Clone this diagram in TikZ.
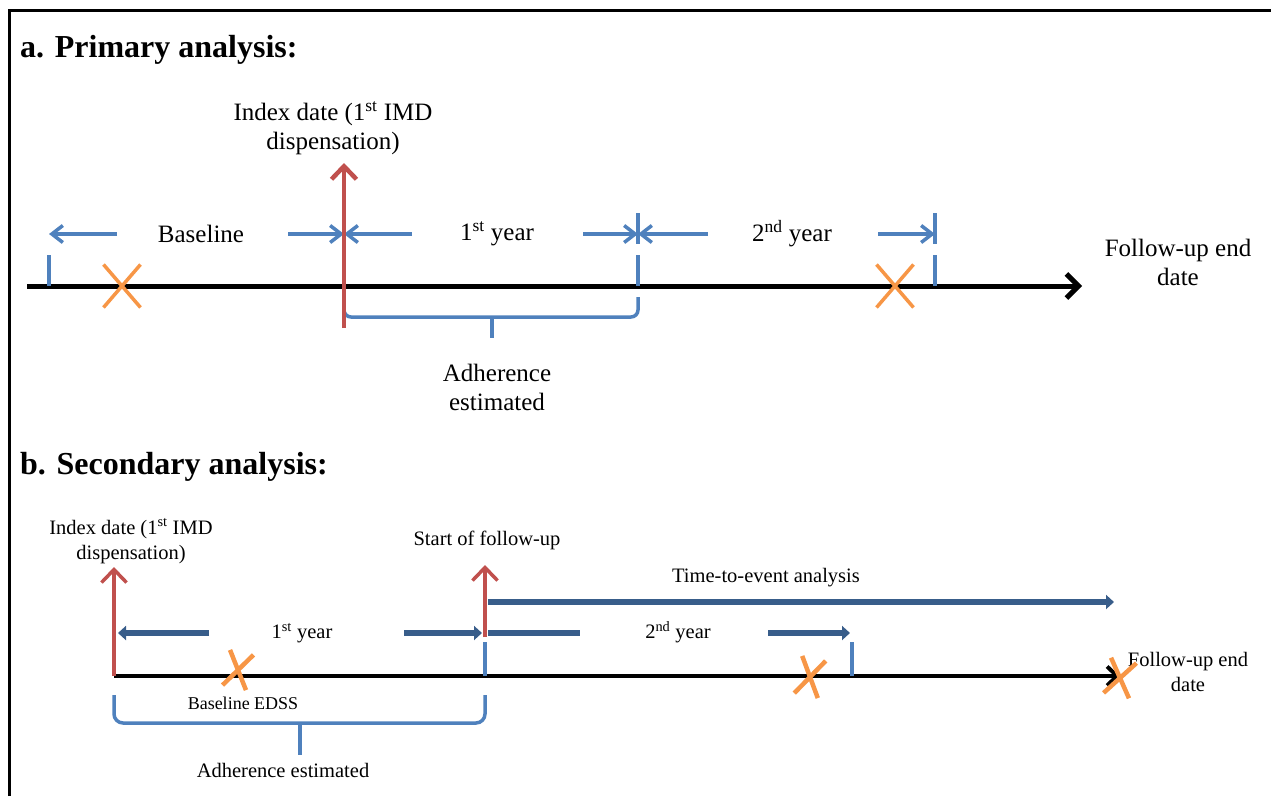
\documentclass[tikz,border=0pt]{standalone}
\usepackage{fontspec}
\setmainfont{Liberation Serif}
\usepackage{tikz}
\usetikzlibrary{arrows.meta}
\usetikzlibrary{shapes.misc}
\usetikzlibrary{calc}
\definecolor{tlblue}{HTML}{4F81BD}
\definecolor{tlred}{HTML}{C0504D}
\definecolor{tlorange}{HTML}{F79646}
\definecolor{tldark}{HTML}{385D8A}
\tikzset{head/.style={font=\fontsize{32}{36}\selectfont\bfseries, anchor=base west, inner sep=0pt}}
\tikzset{txta/.style={font=\fontsize{25}{29}\selectfont, align=center, inner sep=0pt}}
\tikzset{txtb/.style={font=\fontsize{20.5}{25}\selectfont, align=center, inner sep=0pt}}
\tikzset{axisa/.style={line width=5pt, -{Straight Barb[length=12pt,width=24pt]}}}
\tikzset{axisb/.style={line width=4pt, -{Straight Barb[length=10pt,width=19pt]}}}
\tikzset{yrtick/.style={draw=tlblue, line width=4pt}}
\tikzset{dimarr/.style={draw=tlblue, line width=3.5pt, -{Straight Barb[length=11pt,width=17pt]}}}
\tikzset{redarr/.style={draw=tlred, line width=4.5pt, -{Straight Barb[length=13pt,width=25pt]}}}
\tikzset{darkarr/.style={draw=tldark, line width=6pt, -{Triangle[length=8pt,width=14pt]}}}
\tikzset{brace/.style={draw=tlblue, line width=3.5pt, rounded corners=7pt}}
\tikzset{xmark/.style={cross out, draw=tlorange, line width=3.5pt, inner sep=0pt, outer sep=0pt}}

\begin{document}
\begin{tikzpicture}[x=1pt,y=-1pt]

    \useasboundingbox (0,0) rectangle (1271,796);
    \draw[line width=3pt] (9,796) -- (9,10) -- (1271,10);

    % a. primary analysis
    \node[head] (ha) at (20,57) {a. Primary analysis:};

    \coordinate (a-start) at (27,286);
    \coordinate (a-end)   at (1082,286);
    \coordinate (a0) at (49,286);
    \coordinate (aI) at (344,286);
    \coordinate (a1) at (638,286);
    \coordinate (a2) at (935,286);
    \coordinate (d0) at (49,234);
    \coordinate (dI) at (344,234);
    \coordinate (d1) at (638,234);
    \coordinate (d2) at (935,234);

    \draw[axisa] (a-start) -- (a-end);
    \draw[yrtick] (a0) -- ++(0,-31);
    \draw[yrtick] (a1) -- ++(0,-31);
    \draw[yrtick] (a2) -- ++(0,-31);
    \draw[yrtick] ($(d1)+(0,-21)$) -- ($(d1)+(0,10)$);
    \draw[yrtick] ($(d2)+(0,-21)$) -- ($(d2)+(0,10)$);

    \node[txta] (base) at (201,234) {Baseline};
    \node[txta] (yr1a) at (497,234) {1\textsuperscript{st} year};
    \node[txta] (yr2a) at (792,234) {2\textsuperscript{nd} year};
    \draw[dimarr] ($(d0)+(68,0)$) -- (d0);
    \draw[dimarr] ($(dI)+(-56,0)$) -- (dI);
    \draw[dimarr] ($(dI)+(68,0)$) -- (dI);
    \draw[dimarr] ($(d1)+(-55,0)$) -- (d1);
    \draw[dimarr] ($(d1)+(70,0)$) -- (d1);
    \draw[dimarr] ($(d2)+(-57,0)$) -- (d2);

    \draw[brace] (aI) ++(0,14) -- ++(0,17) -- ($(a1)+(0,31)$) -- ($(a1)+(0,11)$);
    \draw[brace] (492,317) -- (492,338);
    \node[txta] (adha) at (497,387) {Adherence\\estimated};

    \node[txta] (idxa) at (333,128) {Index date (1\textsuperscript{st} IMD\\dispensation)};
    \coordinate (idxa-low) at (344,328);
    \coordinate (idxa-top) at (344,163);
    \draw[redarr] (idxa-low) -- (idxa-top);

    \node[txta] (enda) at (1178,262) {Follow-up end\\date};

    \node[xmark, minimum width=37, minimum height=43] (xa1) at (122,286) {};
    \node[xmark, minimum width=37, minimum height=43] (xa2) at (895,286) {};

    % b. secondary analysis
    \node[head] (hb) at (20,474) {b. Secondary analysis:};

    \coordinate (b-start) at (114,676);
    \coordinate (b-end)   at (1120,676);
    \coordinate (b1) at (485,676);
    \coordinate (b2) at (852,676);

    \draw[axisb] (b-start) -- (b-end);
    \draw[yrtick, line width=3.5pt] (b1) -- ++(0,-34);
    \draw[yrtick, line width=3.5pt] (b2) -- ++(0,-34);

    \draw[redarr, line width=3.5pt] (b-start) -- ++(0,-109);
    \draw[redarr, line width=3.5pt] (485,637) -- (485,565);

    \node[txtb] (yr1b) at (302,633) {1\textsuperscript{st} year};
    \node[txtb] (yr2b) at (678,632) {2\textsuperscript{nd} year};
    \draw[darkarr] (209,633) -- (118,633);
    \draw[darkarr] (404,633) -- (482,633);
    \draw[darkarr, -] (488,633) -- (580,633);
    \draw[darkarr] (768,633) -- (850,633);

    \node[txtb] (tte) at (766,578) {Time-to-event analysis};
    \draw[darkarr, line width=5.5pt] (488,602) -- (1114,602);

    \node[txtb] (idxb) at (131,541) {Index date (1\textsuperscript{st} IMD\\dispensation)};
    \node[txtb] (sfu) at (487,540) {Start of follow-up};
    \node[txtb] (endb) at (1188,672) {Follow-up end\\date};
    \node[txtb, font=\fontsize{18}{22}\selectfont] (edss) at (243,703) {Baseline EDSS};

    \draw[brace, rounded corners=9pt] (114,695) -- (114,723) -- (485,723) -- (485,695);
    \draw[brace] (300,723) -- (300,755);
    \node[txtb] (adhb) at (283,770) {Adherence estimated};

    \node[xmark, line width=4.5pt, minimum width=24, minimum height=36, rotate=-12] (xb1) at (238,670) {};
    \node[xmark, line width=4.5pt, minimum width=24, minimum height=38, rotate=-12] (xb2) at (810,677) {};
    \node[xmark, line width=4.5pt, minimum width=26, minimum height=36, rotate=-12] (xb3) at (1120,678) {};

  \end{tikzpicture}
\end{document}
